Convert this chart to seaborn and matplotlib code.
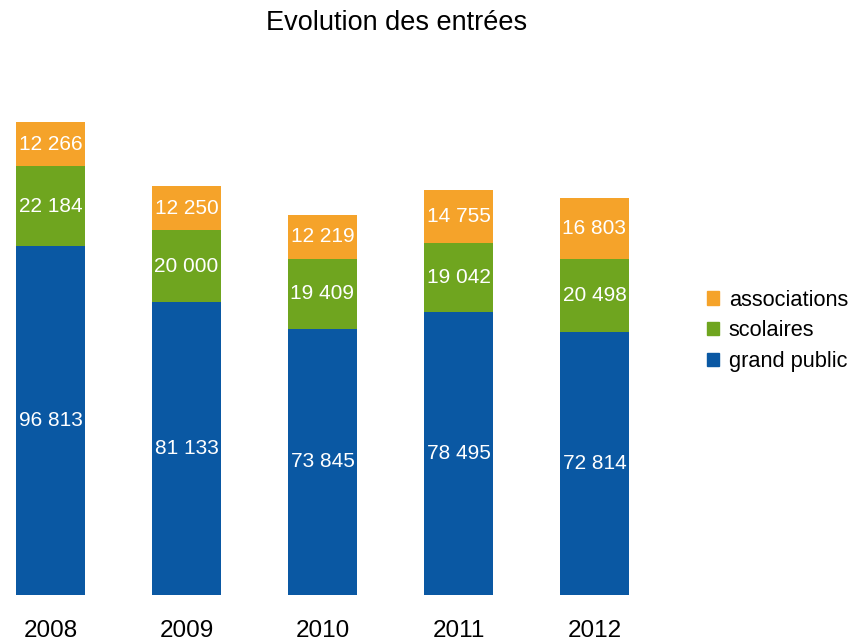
import matplotlib
matplotlib.use("Agg")
import matplotlib.pyplot as plt
import matplotlib.patches as mpatches
import seaborn as sns
import pandas as pd
import numpy as np

# Chart data
years = ["2008", "2009", "2010", "2011", "2012"]
grand_public = [96813, 81133, 73845, 78495, 72814]
scolaires = [22184, 20000, 19409, 19042, 20498]
associations = [12266, 12250, 12219, 14755, 16803]

colors = {"associations": "#F5A32A", "scolaires": "#6FA51F", "grand public": "#0A58A3"}

df = pd.DataFrame({"year": years, "grand public": grand_public,
                   "scolaires": scolaires, "associations": associations})
df["cum_gp"] = df["grand public"]
df["cum_sc"] = df["cum_gp"] + df["scolaires"]
df["cum_as"] = df["cum_sc"] + df["associations"]

sns.set_style("white")
plt.rcParams["font.family"] = ["Liberation Sans", "DejaVu Sans"]
plt.rcParams["text.color"] = "black"

fig = plt.figure(figsize=(8.5, 6.43), dpi=100)
ax = fig.add_axes([0.0, 1 - 594.7 / 643, 680 / 850, 503 / 643])

# stacked bars drawn as overlapping cumulative bars, tallest first
for col, name in [("cum_as", "associations"), ("cum_sc", "scolaires"), ("cum_gp", "grand public")]:
    sns.barplot(data=df, x="year", y=col, color=colors[name], width=0.507,
                saturation=1, ax=ax, edgecolor="none", linewidth=0)

# value labels centered in each segment
for i in range(len(years)):
    bottoms = [0, df["cum_gp"][i], df["cum_sc"][i]]
    vals = [grand_public[i], scolaires[i], associations[i]]
    for b, v in zip(bottoms, vals):
        ax.text(i, b + v / 2, f"{v:,}".replace(",", " "), ha="center", va="center",
                color="white", fontsize=15)

ax.set_xlim(-50.5 / 136, (680 - 50.5) / 136)
ax.set_ylim(0, 503 / 0.0036017)
ax.set_xlabel("")
ax.set_ylabel("")
ax.set_yticks([])
ax.tick_params(axis="x", length=0, pad=18, labelsize=17.5, colors="black")
sns.despine(ax=ax, left=True, bottom=True)

handles = [mpatches.Patch(color=colors[n], label=n) for n in ["associations", "scolaires", "grand public"]]
fig.legend(handles=handles, loc="center left", bbox_to_anchor=(707 / 850, 1 - 331 / 643),
           frameon=False, fontsize=15.7, handlelength=0.55, handleheight=0.55,
           handletextpad=0.45, labelspacing=0.45, borderaxespad=0, borderpad=0,
           labelcolor="black")

fig.text(397 / 850, 1 - 23 / 643, "Evolution des entrées", ha="center", va="center",
         fontsize=19.5, color="black")

fig.savefig("out.png", dpi=100)
